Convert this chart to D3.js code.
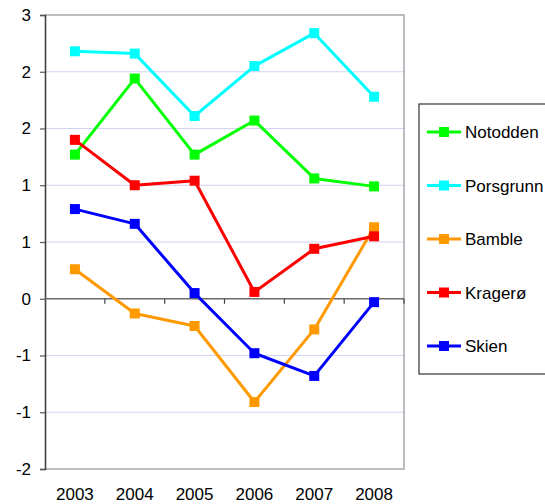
<!DOCTYPE html>
<html>
<head>
<meta charset="utf-8">
<script src="https://cdn.jsdelivr.net/npm/d3@7"></script>
<style>
  html, body { margin: 0; padding: 0; background: #fff; }
  svg { display: block; font-family: "Liberation Sans", Arial, sans-serif; }
</style>
</head>
<body>
<svg id="chart" width="545" height="504"></svg>
<script>
const years = ["2003", "2004", "2005", "2006", "2007", "2008"];
const seriesNames = ["Notodden", "Porsgrunn", "Bamble", "Kragerø", "Skien"];
const seriesColors = ["#00ff00", "#00ffff", "#ff9900", "#ff0000", "#0000ff"];
const notodden  = [1.27, 1.94, 1.27, 1.57, 1.06, 0.99];
const porsgrunn = [2.18, 2.16, 1.61, 2.05, 2.34, 1.78];
const bamble    = [0.26, -0.13, -0.24, -0.91, -0.27, 0.63];
const kragero   = [1.40, 1.00, 1.04, 0.06, 0.44, 0.55];
const skien     = [0.79, 0.66, 0.05, -0.48, -0.68, -0.03];
const yTickValues = [-1.5, -1, -0.5, 0, 0.5, 1, 1.5, 2, 2.5];
const yTickLabels = ["-2", "-1", "-1", "0", "1", "1", "2", "2", "3"];

const seriesValues = [notodden, porsgrunn, bamble, kragero, skien];

const svg = d3.select("#chart");
const plot = { left: 45, right: 404, top: 15, bottom: 469 };

const x = d3.scaleBand().domain(years).range([plot.left, plot.right]).padding(0);
const y = d3.scaleLinear().domain([-1.5, 2.5]).range([plot.bottom, plot.top]);
const cx = d => x(d) + x.bandwidth() / 2;

// gridlines
svg.append("g").selectAll("line")
  .data(yTickValues.filter(v => v > -1.5 && v < 2.5 && v !== 0))
  .join("line")
  .attr("x1", plot.left).attr("x2", plot.right)
  .attr("y1", d => y(d)).attr("y2", d => y(d))
  .attr("stroke", "#d2d2f5").attr("stroke-width", 1);

// frame (top, right, bottom)
svg.append("path")
  .attr("d", `M${plot.left},${y(2.5)}H${plot.right}V${y(-1.5)}H${plot.left}`)
  .attr("fill", "none").attr("stroke", "#a6a6ae").attr("stroke-width", 1.5);

// y axis
const yAxis = d3.axisLeft(y).tickValues(yTickValues)
  .tickFormat((d, i) => yTickLabels[i]).tickSize(5).tickPadding(9);
const gy = svg.append("g").attr("transform", `translate(${plot.left},0)`).call(yAxis);
gy.select(".domain").attr("stroke", "#404040").attr("stroke-width", 1.6);
gy.selectAll(".tick line").attr("stroke", "#555").attr("stroke-width", 1.2);
gy.selectAll(".tick text").attr("font-size", 17).attr("fill", "#000")
  .attr("font-family", "Liberation Sans, Arial, sans-serif");

// x axis at zero
const boundaries = years.map(d => x(d)).concat([plot.right]);
svg.append("line")
  .attr("x1", plot.left).attr("x2", plot.right)
  .attr("y1", y(0)).attr("y2", y(0))
  .attr("stroke", "#6a6a6a").attr("stroke-width", 1.6);
svg.append("g").selectAll("line").data(boundaries.slice(1)).join("line")
  .attr("x1", d => d).attr("x2", d => d)
  .attr("y1", y(0)).attr("y2", y(0) + 5)
  .attr("stroke", "#444").attr("stroke-width", 1.2);

// x labels at bottom
svg.append("g").selectAll("text").data(years).join("text")
  .attr("x", d => cx(d)).attr("y", 500)
  .attr("text-anchor", "middle").attr("font-size", 17).attr("fill", "#000")
  .text(d => d);

// series
const line = d3.line().x((d, i) => cx(years[i])).y(d => y(d));
seriesNames.forEach((name, si) => {
  const g = svg.append("g");
  g.append("path").datum(seriesValues[si])
    .attr("d", line).attr("fill", "none")
    .attr("stroke", seriesColors[si]).attr("stroke-width", 3)
    .attr("stroke-linejoin", "round");
  g.selectAll("rect").data(seriesValues[si]).join("rect")
    .attr("x", (d, i) => cx(years[i]) - 5).attr("y", d => y(d) - 5)
    .attr("width", 10).attr("height", 10)
    .attr("fill", seriesColors[si]);
});

// legend
const lg = svg.append("g");
lg.append("rect").attr("x", 419).attr("y", 104).attr("width", 140).attr("height", 270)
  .attr("fill", "#fff").attr("stroke", "#333").attr("stroke-width", 1.2);
const legendY = d3.scalePoint().domain(seriesNames).range([132, 346]);
seriesNames.forEach((name, si) => {
  const ly = legendY(name);
  lg.append("line").attr("x1", 427).attr("x2", 461).attr("y1", ly).attr("y2", ly)
    .attr("stroke", seriesColors[si]).attr("stroke-width", 3);
  lg.append("rect").attr("x", 439).attr("y", ly - 5).attr("width", 10).attr("height", 10)
    .attr("fill", seriesColors[si]);
  lg.append("text").attr("x", 465).attr("y", ly + 6)
    .attr("font-size", 17).attr("fill", "#000").text(name);
});
</script>
</body>
</html>
